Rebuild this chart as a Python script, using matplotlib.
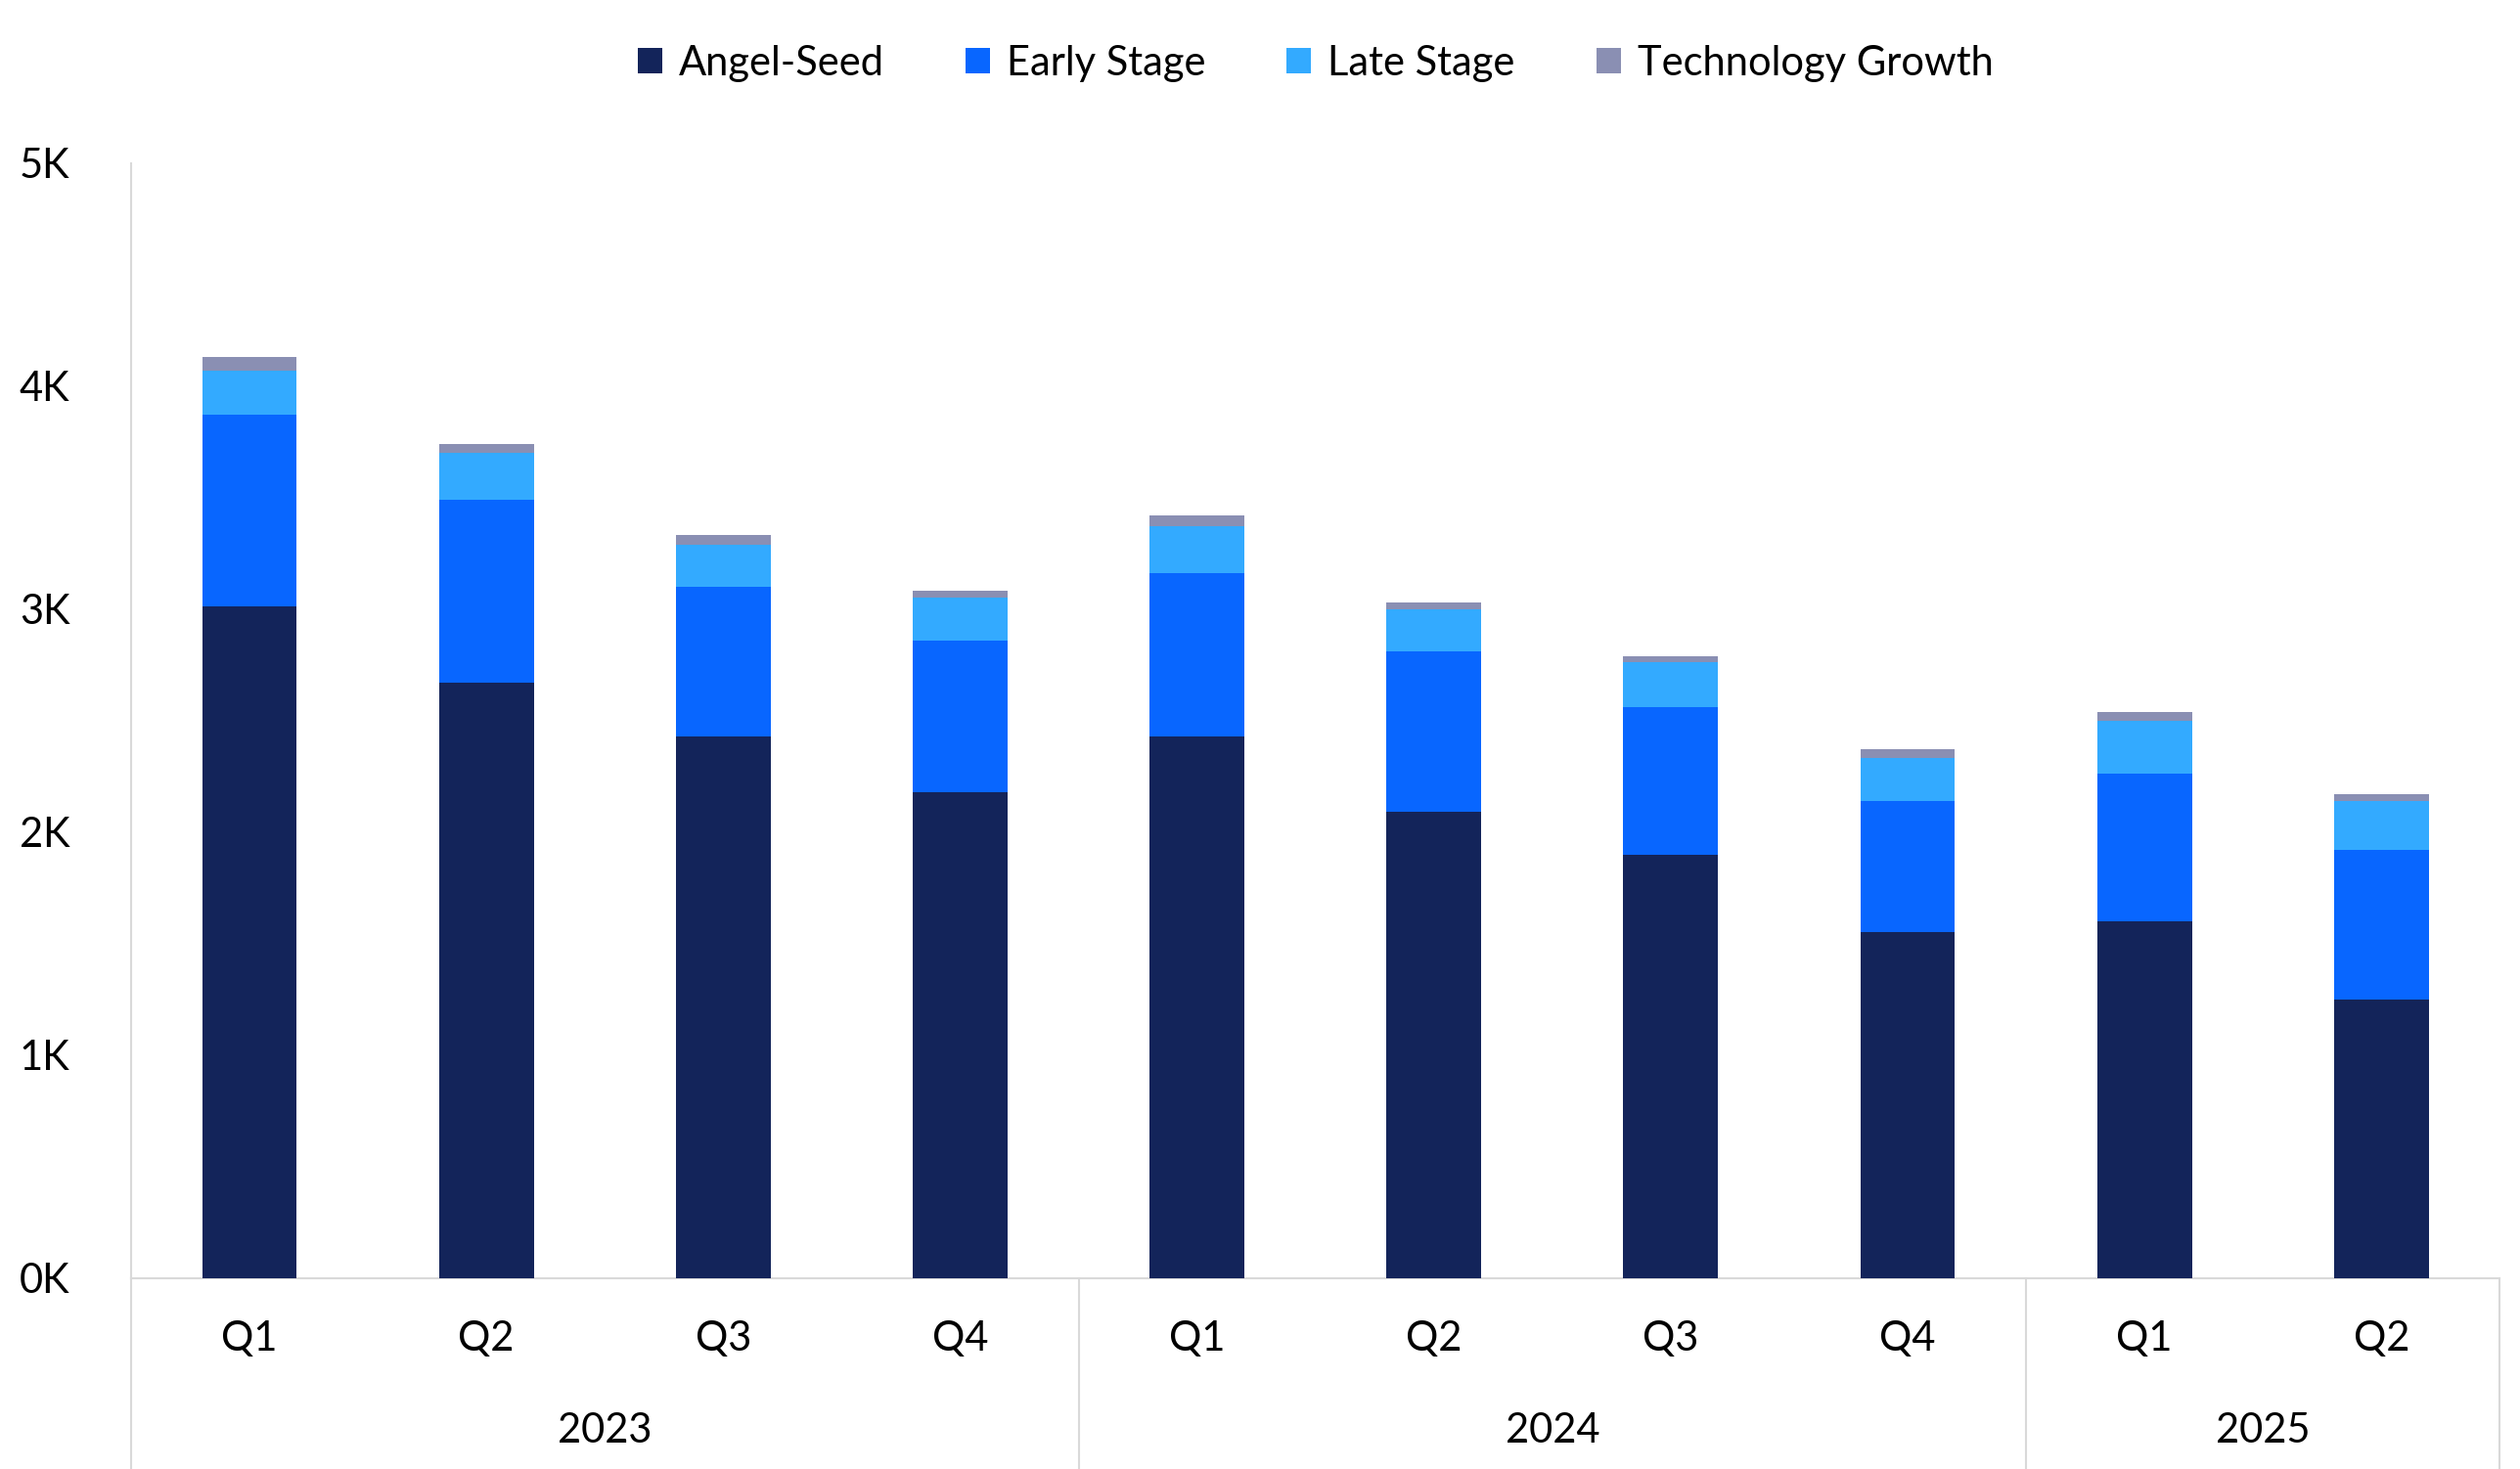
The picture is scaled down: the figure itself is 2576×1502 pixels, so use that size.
import matplotlib.pyplot as plt
import numpy as np

quarters = ["Q1", "Q2", "Q3", "Q4", "Q1", "Q2", "Q3", "Q4", "Q1", "Q2"]
years = ["2023", "2024", "2025"]
year_sizes = [4, 4, 2]

angel_seed = [3010, 2670, 2430, 2180, 2430, 2090, 1900, 1550, 1600, 1250]
early_stage = [860, 820, 670, 680, 730, 720, 660, 590, 660, 670]
late_stage = [200, 210, 190, 190, 210, 190, 200, 190, 240, 220]
tech_growth = [60, 40, 40, 30, 50, 30, 30, 40, 40, 30]

series = [
    ("Angel-Seed", angel_seed, "#13245a"),
    ("Early Stage", early_stage, "#0866ff"),
    ("Late Stage", late_stage, "#33aaff"),
    ("Technology Growth", tech_growth, "#8a8fb3"),
]

plt.rcParams["font.family"] = ["Lato", "DejaVu Sans"]
fig = plt.figure(figsize=(25.76, 15.02), dpi=100)
ax = fig.add_axes([0.052, 0.13, 0.940, 0.759])

x = np.arange(len(quarters))
bottom = np.zeros(len(quarters))
for name, vals, color in series:
    ax.bar(x, vals, 0.4, bottom=bottom, color=color, label=name, zorder=3)
    bottom += np.array(vals)

ax.set_xlim(-0.5, len(quarters) - 0.5)
ax.set_ylim(0, 5000)
ax.set_yticks(range(0, 5001, 1000))
ax.set_yticklabels([f"{v // 1000}K" for v in range(0, 5001, 1000)], fontsize=30)
ax.tick_params(axis="y", length=0, pad=45)
ax.tick_params(axis="x", length=0)
ax.set_xticks([])
for s in ["top", "right"]:
    ax.spines[s].set_visible(False)
ax.spines["left"].set_color("#d9d9d9")
ax.spines["bottom"].set_color("#d9d9d9")
ax.spines["left"].set_linewidth(1.5)
ax.spines["bottom"].set_linewidth(1.5)

trans = ax.get_xaxis_transform()
for i, q in enumerate(quarters):
    ax.text(i, -0.055, q, transform=trans, ha="center", va="center", fontsize=30)
start = 0
bounds = [-0.5]
for yr, n in zip(years, year_sizes):
    ax.text(start + (n - 1) / 2, -0.137, yr, transform=trans, ha="center", va="center", fontsize=30)
    start += n
    bounds.append(start - 0.5)
for b in bounds:
    ax.plot([b, b], [0, -0.175], transform=trans, color="#d9d9d9", lw=1.5, clip_on=False)

ax.legend(loc="lower center", bbox_to_anchor=(0.5, 1.04), ncol=4, frameon=False,
          fontsize=30, handlelength=0.6, handleheight=0.6, handletextpad=0.4, columnspacing=2.0)

fig.savefig("out.png", dpi=100)
